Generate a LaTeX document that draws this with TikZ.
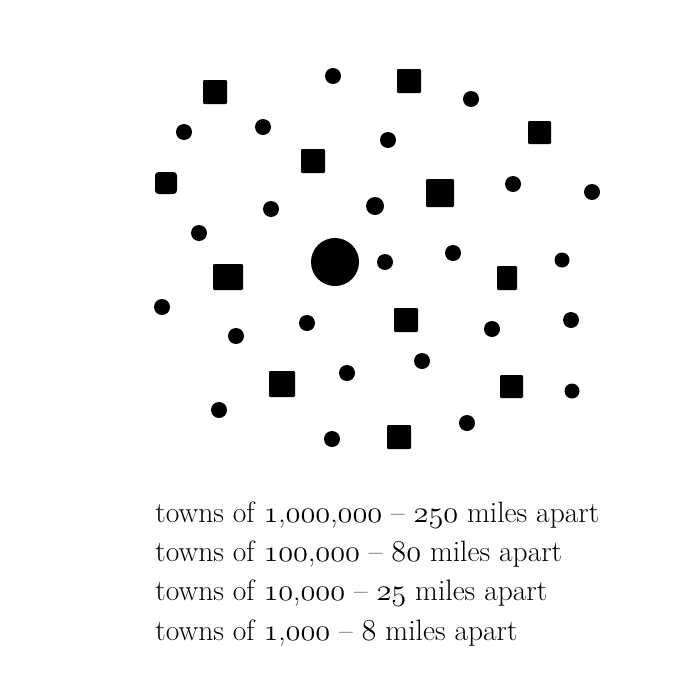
\documentclass[tikz,border=0pt]{standalone}
\usepackage{fontspec}
\usepackage{tikz}
\newcommand{\osn}[1]{\legacyoldstylenums{#1}}

\begin{document}
\begin{tikzpicture}[x=0.02cm,y=-0.02cm,legend/.style={anchor=base west,inner sep=0pt,font=\fontsize{16.8}{20}\selectfont},town/.style={rounded corners=0.6pt}]
  \useasboundingbox (0,0) rectangle (700,700);
  % big town
  \coordinate (C) at (335,262); \fill (C) circle (24);
  % towns of 100,000
  \fill[town] (203,80) rectangle ++(24,24); \fill[town] (397,69) rectangle ++(24,24); \fill[town] (528,121) rectangle ++(23,23);
  \fill[town] (301,149) rectangle ++(24,24); \fill[rounded corners=2pt] (155,172) rectangle ++(22,22); \fill[town] (426,179) rectangle ++(28,28);
  \fill[town] (213,264) rectangle ++(30,26); \fill[town] (497,266) rectangle ++(20,24); \fill[town] (394,308) rectangle ++(24,24);
  \fill[town] (269,371) rectangle ++(26,26); \fill[town] (500,375) rectangle ++(23,23); \fill[town] (387,425) rectangle ++(24,24);
  % towns of 10,000
  \fill (333,76) circle (8); \fill (471,99) circle (8); \fill (184,132) circle (8); \fill (263,127) circle (8);
  \fill (388,140) circle (8); \fill (513,184) circle (8); \fill (592,192) circle (8); \fill (271,209) circle (8);
  \fill (375,206) circle (9); \fill (199,233) circle (8); \fill (453,253) circle (8); \fill (385,262) circle (8);
  \fill (562,260) circle (7.5); \fill (162,307) circle (8); \fill (307,323) circle (8); \fill (236,336) circle (8);
  \fill (492,329) circle (8); \fill (571,320) circle (8); \fill (422,361) circle (8); \fill (347,373) circle (8);
  \fill (572,391) circle (7.5); \fill (219,410) circle (8); \fill (467,423) circle (8); \fill (332,439) circle (8);
  % legend
  \node[legend] (L1) at (155,522) {towns of \osn{1},\osn{000},\osn{000} -- \osn{250} miles apart};
  \node[legend] (L2) at (155,561) {towns of \osn{100},\osn{000} -- \osn{80} miles apart};
  \node[legend] (L3) at (155,600) {towns of \osn{10},\osn{000} -- \osn{25} miles apart};
  \node[legend] (L4) at (155,640) {towns of \osn{1},\osn{000} -- \osn{8} miles apart};
\end{tikzpicture}
\end{document}
